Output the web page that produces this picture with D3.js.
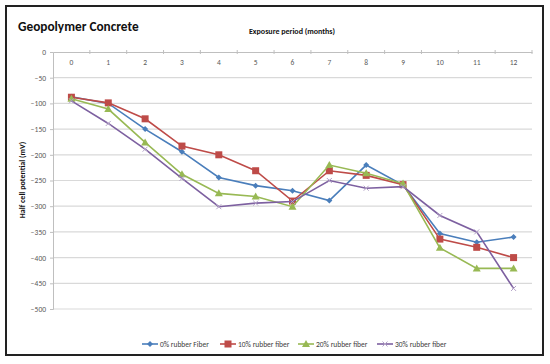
<!DOCTYPE html>
<html><head><meta charset="utf-8">
<script src="https://cdn.jsdelivr.net/npm/d3@7"></script>
<style>body{margin:0;background:#fff}svg{display:block;font-family:Calibri,Carlito,"Liberation Sans",Arial,sans-serif}</style>
</head><body><svg id="c" width="550" height="364"></svg>
<script>
const months = ["0","1","2","3","4","5","6","7","8","9","10","11","12"];
const yTicks = [0,-50,-100,-150,-200,-250,-300,-350,-400,-450,-500];
const seriesNames = ["0% rubber Fiber","10% rubber fiber","20% rubber fiber","30% rubber fiber"];
const s0 = [-87,-100,-150,-194,-244,-260,-270,-289,-220,-259,-353,-370,-360];
const s10 = [-88,-99,-130,-183,-200,-231,-290,-231,-240,-258,-364,-380,-400];
const s20 = [-91,-111,-176,-238,-275,-281,-301,-220,-236,-256,-381,-421,-421];
const s30 = [-95,-139,-189,-246,-301,-294,-291,-250,-265,-262,-318,-350,-460];
const seriesValues = [s0,s10,s20,s30];
const colors = ["#4a7ebb","#be4b48","#98b954","#7d60a0"];
const markers = ["diamond","square","triangle","cross"];

const svg = d3.select("#c");
// frame
svg.append("rect").attr("x",6).attr("y",6).attr("width",537).attr("height",349)
  .attr("fill","#fff").attr("stroke","#222").attr("stroke-width",2);

const L=53,R=532,T=52,B=309;
const x = d3.scaleBand().domain(months).range([L,R]);
const y = d3.scaleLinear().domain([0,-500]).range([T,B]);

// gridlines
svg.append("g").selectAll("line").data(yTicks.slice(1)).join("line")
  .attr("x1",L).attr("x2",R).attr("y1",d=>y(d)).attr("y2",d=>y(d))
  .attr("stroke","#d9d9d9").attr("stroke-width",1.2);

// y axis
const ya = svg.append("g").attr("transform",`translate(${L},0)`).call(d3.axisLeft(y).tickValues(yTicks).tickSize(3).tickPadding(4));
ya.select(".domain").attr("stroke","#bfbfbf");
ya.selectAll(".tick line").attr("stroke","#bfbfbf");
ya.selectAll("text").attr("fill","#595959").style("font-size","7.5px").style("font-family","Calibri,Carlito,'Liberation Sans',sans-serif");

// x axis at top (0 line)
const xa = svg.append("g").attr("transform",`translate(0,${T})`).call(d3.axisBottom(x).tickSize(0).tickPadding(8));
xa.select(".domain").attr("stroke","#bfbfbf");
xa.selectAll("text").attr("fill","#595959").style("font-size","7.5px").style("font-family","Calibri,Carlito,'Liberation Sans',sans-serif");
svg.append("g").selectAll("line").data(months.slice(1)).join("line")
  .attr("x1",d=>x(d)).attr("x2",d=>x(d)).attr("y1",T-2).attr("y2",T+2).attr("stroke","#bfbfbf");
svg.append("line").attr("x1",R).attr("x2",R).attr("y1",T-2).attr("y2",T+2).attr("stroke","#bfbfbf");

// title & labels
svg.append("text").attr("x",18).attr("y",31).text("Geopolymer Concrete")
  .style("font-size","13.3px").style("font-weight","bold").attr("fill","#111");
svg.append("text").attr("x",292).attr("y",34).attr("text-anchor","middle").text("Exposure period (months)")
  .style("font-size","8px").style("font-weight","bold").attr("fill","#111");
svg.append("text").attr("transform","translate(25,180) rotate(-90)").attr("text-anchor","middle")
  .text("Half cell potential (mV)").style("font-size","8px").style("font-weight","bold").attr("fill","#111");

function drawMarker(g,type,color,cx,cy,s){
  if(type==="diamond") g.append("path").attr("d",`M${cx},${cy-3}L${cx+3},${cy}L${cx},${cy+3}L${cx-3},${cy}Z`).attr("fill",color);
  else if(type==="square") g.append("rect").attr("x",cx-3.5).attr("y",cy-3.5).attr("width",7).attr("height",7).attr("fill",color);
  else if(type==="triangle") g.append("path").attr("d",`M${cx},${cy-4}L${cx+4},${cy+3}L${cx-4},${cy+3}Z`).attr("fill",color);
  else g.append("path").attr("d",`M${cx-2.5},${cy-2.5}L${cx+2.5},${cy+2.5}M${cx-2.5},${cy+2.5}L${cx+2.5},${cy-2.5}`).attr("stroke","#b3a2c7").attr("stroke-width",1);
}

const line = d3.line().x((d,i)=>x(months[i])+x.bandwidth()/2).y(d=>y(d));
seriesValues.forEach((vals,k)=>{
  const g = svg.append("g");
  g.append("path").datum(vals).attr("d",line).attr("fill","none").attr("stroke",colors[k]).attr("stroke-width",1.6);
  vals.forEach((v,i)=>drawMarker(g,markers[k],colors[k],x(months[i])+x.bandwidth()/2,y(v)));
});

// legend
const legX=[142,220,298,377];
seriesNames.forEach((n,k)=>{
  const g=svg.append("g");
  g.append("line").attr("x1",legX[k]).attr("x2",legX[k]+16).attr("y1",344).attr("y2",344).attr("stroke",colors[k]).attr("stroke-width",1.6);
  drawMarker(g,markers[k],colors[k],legX[k]+8,344);
  g.append("text").attr("x",legX[k]+18).attr("y",346.5).text(n).style("font-size","7.5px").attr("fill","#404040");
});
</script></body></html>
